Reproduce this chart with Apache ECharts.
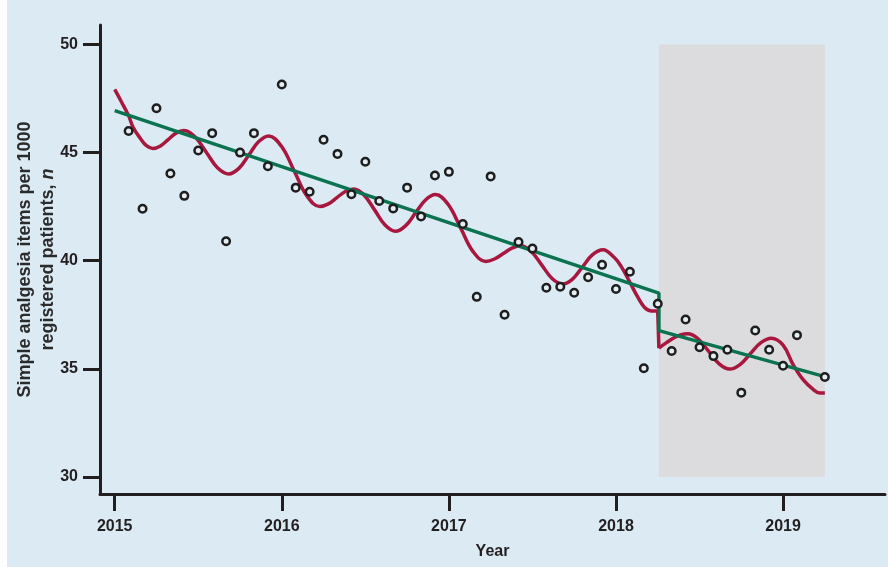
<!DOCTYPE html>
<html><head><meta charset="utf-8">
<script src="https://cdn.jsdelivr.net/npm/echarts@6/dist/echarts.min.js"></script>
<style>
html,body{margin:0;padding:0;background:#ffffff;}
#bg{position:absolute;left:7px;top:0;width:881px;height:567px;background:#dbeaf3;}
#chart{position:absolute;left:0;top:0;width:888px;height:567px;}
</style></head><body>
<div id="bg"></div><div id="chart"></div>
<script>
// Observed monthly values
const months = ['2015-02','2015-03','2015-04','2015-05','2015-06','2015-07','2015-08','2015-09','2015-10','2015-11','2015-12','2016-01',
  '2016-02','2016-03','2016-04','2016-05','2016-06','2016-07','2016-08','2016-09','2016-10','2016-11','2016-12','2017-01','2017-02',
  '2017-03','2017-04','2017-05','2017-06','2017-07','2017-08','2017-09','2017-10','2017-11','2017-12','2018-01','2018-02',
  '2018-03','2018-04','2018-05','2018-06','2018-07','2018-08','2018-09','2018-10','2018-11','2018-12','2019-01','2019-02','2019-04'];
const observed = [46.0,42.4,47.05,44.03,43.0,45.1,45.9,40.9,45.0,45.9,44.37,48.15,
  43.38,43.19,45.59,44.94,43.07,44.58,42.76,42.42,43.38,42.05,43.94,44.11,41.70,
  38.33,43.90,37.5,40.87,40.56,38.75,38.80,38.52,39.24,39.81,38.69,39.49,
  35.03,38.01,35.83,37.28,36.0,35.59,35.88,33.90,36.77,35.88,35.14,36.56,34.62];

// Segmented linear trend (green)
const trendX = [2015.0, 2018.257, 2018.257, 2019.26];
const trendY = [46.94, 38.5, 36.77, 34.62];

// Seasonal model fit (red), before the change
const fitPreX = [2015.0,2015.04,2015.083,2015.11,2015.154,2015.19,2015.228,
  2015.274,2015.32,2015.367,2015.413,2015.48,2015.548,2015.615,2015.683,
  2015.743,2015.803,2015.862,2015.922,2015.998,2016.075,2016.151,2016.228,
  2016.279,2016.33,2016.38,2016.431,2016.493,2016.556,2016.618,2016.68,
  2016.74,2016.80,2016.86,2016.92,2016.995,2017.07,2017.145,2017.22,
  2017.2725,2017.325,2017.3775,2017.43,2017.4925,2017.555,2017.6175,2017.68,
  2017.74,2017.80,2017.86,2017.922,2017.99,2018.03,2018.08,2018.128,2018.17,2018.21,2018.25];
const fitPreY = [47.92,47.35,46.71,46.17,45.65,45.32,45.19,
  45.31,45.6,45.90,46.02,45.73,45.02,44.30,44.01,
  44.27,44.89,45.51,45.77,45.29,44.14,42.99,42.51,
  42.63,42.92,43.20,43.32,43.03,42.34,41.65,41.36,
  41.61,42.21,42.81,43.06,42.61,41.52,40.42,39.97,
  40.08,40.33,40.58,40.69,40.43,39.81,39.18,38.92,
  39.15,39.72,40.28,40.51,40.15,39.75,39.05,38.35,37.85,37.68,37.67];
// Seasonal model fit (red), after the change
const fitPostX = [2018.257,2018.30,2018.35,2018.39,2018.43,2018.4925,2018.555,2018.6175,2018.68,
  2018.7425,2018.805,2018.8675,2018.93,2019.0,2019.06,2019.12,2019.18,2019.22,2019.25];
const fitPostY = [35.96,36.2,36.45,36.58,36.62,36.38,35.81,35.23,34.99,
  35.2,35.71,36.21,36.42,36.1,35.2,34.5,34.05,33.88,33.88];

// Shaded post-change period
const shadeX = [2018.256, 2019.25];
const shadeY = [30, 50];

const xTicks = [2015, 2016, 2017, 2018, 2019];
const yTicks = [30, 35, 40, 45, 50];

const FONT = 'Liberation Sans';
const INK = '#231f20';
const RED = '#a8173e';
const GREEN = '#0b7350';

const zip = (xs, ys) => xs.map((x, i) => [x, ys[i]]);
const monthToYear = m => { const [y, mo] = m.split('-').map(Number); return y + (mo - 1) / 12; };
const obsData = months.map((m, i) => [monthToYear(m), observed[i]]);
const dropData = [[fitPreX[fitPreX.length-1], fitPreY[fitPreY.length-1]], [fitPostX[0], fitPostY[0]]];

const chart = echarts.init(document.getElementById('chart'), null, {renderer: 'canvas'});
chart.setOption({
  backgroundColor: 'transparent',
  animation: false,
  grid: {left: 100, right: 3, top: 25, bottom: 73, containLabel: false, outerBoundsMode: 'none'},
  xAxis: {
    type: 'value', min: 2014.912, max: 2019.61,
    name: 'Year', nameLocation: 'middle', nameGap: 50, nameMoveOverlap: false,
    nameTextStyle: {fontFamily: FONT, fontWeight: 'bold', fontSize: 16, color: INK},
    axisLine: {show: true, onZero: false, lineStyle: {color: INK, width: 3}},
    axisTick: {show: true, length: 17, lineStyle: {color: INK, width: 3}, customValues: xTicks},
    axisLabel: {customValues: xTicks, margin: 25, fontFamily: FONT, fontWeight: 'bold', fontSize: 16, color: INK,
      formatter: v => String(v)},
    splitLine: {show: false}
  },
  yAxis: {
    type: 'value', min: 29.214, max: 50.9,
    name: 'Simple analgesia items per 1000\nregistered patients, {it|n}',
    nameLocation: 'middle', nameGap: 40, nameRotate: 90, nameMoveOverlap: false,
    nameTextStyle: {fontFamily: FONT, fontWeight: 'bold', fontSize: 18, color: '#2b2b2b', lineHeight: 23,
      rich: {it: {fontFamily: FONT, fontWeight: 'bold', fontStyle: 'italic', fontSize: 18, color: '#2b2b2b', lineHeight: 23}}},
    axisLine: {show: true, onZero: false, lineStyle: {color: INK, width: 3}},
    axisTick: {show: true, length: 17, lineStyle: {color: INK, width: 3}, customValues: yTicks},
    axisLabel: {customValues: yTicks, margin: 22, fontFamily: FONT, fontWeight: 'bold', fontSize: 16, color: INK,
      formatter: v => String(v)},
    splitLine: {show: false}
  },
  series: [
    {
      type: 'line', data: [], z: 1, silent: true,
      markArea: {silent: true, itemStyle: {color: '#dcdcde'},
        data: [[{coord: [shadeX[0], shadeY[0]]}, {coord: [shadeX[1], shadeY[1]]}]]}
    },
    {type: 'line', data: zip(fitPreX, fitPreY), smooth: 0.4, showSymbol: false, z: 3,
      lineStyle: {color: RED, width: 3.5}},
    {type: 'line', data: dropData, showSymbol: false, z: 3, lineStyle: {color: RED, width: 3.5}},
    {type: 'line', data: zip(fitPostX, fitPostY), smooth: 0.4, showSymbol: false, z: 3,
      lineStyle: {color: RED, width: 3.5}},
    {type: 'line', data: zip(trendX, trendY), showSymbol: false, z: 4, lineStyle: {color: GREEN, width: 3.5}},
    {type: 'scatter', data: obsData, z: 5, symbol: 'circle', symbolSize: 7.5,
      itemStyle: {color: '#e4edf2', borderColor: '#1e1e1e', borderWidth: 2.5, opacity: 1}}
  ]
});
</script>
</body></html>
